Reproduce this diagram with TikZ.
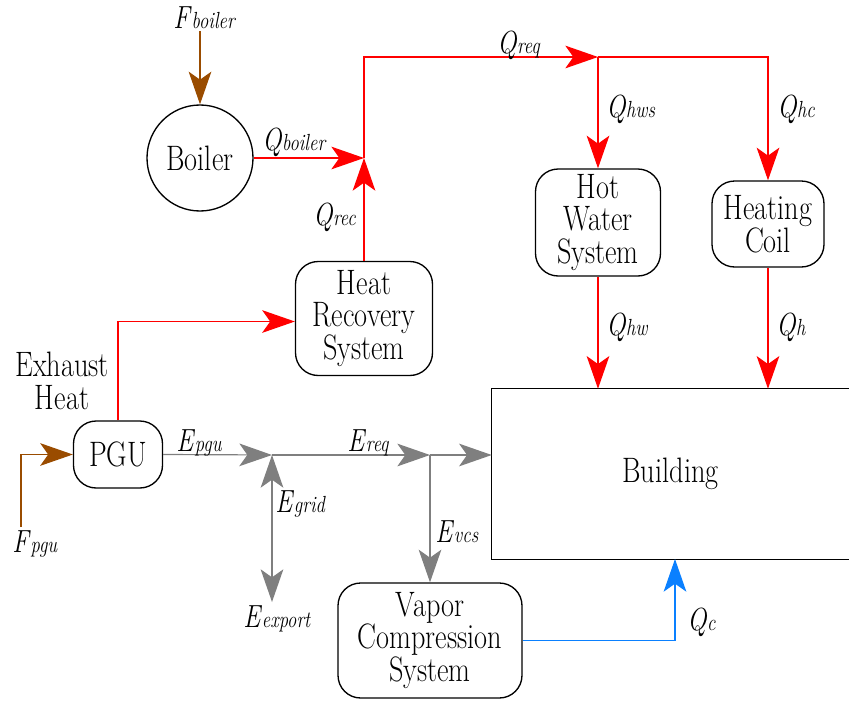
\documentclass[tikz,border=0pt]{standalone}
\usepackage{fontspec}
\setmainfont{Latin Modern Roman}[FakeStretch=0.8]
\usetikzlibrary{arrows.meta,calc}
\definecolor{flowred}{HTML}{FF0000}
\definecolor{flowbrown}{HTML}{9A4C00}
\definecolor{flowgray}{HTML}{7F7F7F}
\definecolor{flowblue}{HTML}{0A80FF}
\newcommand\lbl[2]{\textit{#1}{\fontsize{17.5}{17.5}\selectfont\textit{#2}}}
\tikzset{
  txt/.style={font=\fontsize{26.5}{24.4}\selectfont},
  box/.style={draw, line width=1pt, rounded corners=17pt, align=center, inner sep=0pt, txt},
  lab/.style={inner sep=0pt, anchor=base west, font=\fontsize{24}{24}\selectfont},
  bigtip/.tip={Stealth[length=24.5pt,width=17pt,inset=6pt]},
  redflow/.style={draw=flowred, line width=0.9pt, -bigtip},
  brownflow/.style={draw=flowbrown, line width=0.9pt, -bigtip},
  grayflow/.style={draw=flowgray, line width=0.9pt, -bigtip},
  blueflow/.style={draw=flowblue, line width=0.9pt, -bigtip},
}
\begin{document}
\begin{tikzpicture}[x=0.75pt,y=-0.75pt]
\useasboundingbox (0,0) rectangle (849,700);

% nodes
\node[draw, circle, line width=1pt, minimum size=79.5pt, inner sep=0pt, txt] (boiler) at (200,158) {Boiler};
\node[box, minimum width=102.75pt, minimum height=85.5pt] (hrs) at (364,318.5) {Heat\\Recovery\\System};
\node[box, minimum width=93.75pt, minimum height=80.25pt] (hws) at (598,222.5) {Hot\\Water\\System};
\node[box, minimum width=84pt, minimum height=64.5pt] (hc) at (768,224) {Heating\\Coil};
\node[box, minimum width=66.75pt, minimum height=50.25pt] (pgu) at (118,454.5) {PGU};
\node[box, minimum width=138pt, minimum height=86.25pt] (vcs) at (430,640.5) {Vapor\\Compression\\System};
\node[inner sep=0pt, minimum width=267.75pt, minimum height=127.5pt, txt] (bld) at (670.5,474) {Building};
\draw[line width=1pt] (bld.north east) -- (bld.north west) -- (bld.south west) -- (bld.south east);
\node[align=center, inner sep=0pt, txt] (exh) at (62,381) {Exhaust\\Heat};

% junctions
\coordinate (fbtop) at (200,31);
\coordinate (fptop) at (21,527);
\coordinate (jrec) at (364,158);
\coordinate (jreq) at (598,57);
\coordinate (jgrid) at (272,455);
\coordinate (jexp) at (272,602);
\coordinate (jvcs) at (430,455);
\coordinate (qc) at (675,559);

% brown fuel
\draw[brownflow] (fbtop) -- (boiler.north);
\draw[brownflow] (fptop) |- (pgu.west);

% red heat
\draw[redflow] (pgu.north) |- ($(hrs.west)+(0,3)$);
\draw[redflow] (hrs.north) -- (jrec);
\draw[redflow] (boiler.east) -- (jrec);
\draw[redflow] (jrec) |- (jreq);
\draw[redflow] (jreq) -- (hws.north);
\draw[redflow] (jreq) -| (hc.north);
\draw[redflow] (hws.south) -- (hws.south |- bld.north);
\draw[redflow] (hc.south) -- (hc.south |- bld.north);

% gray electricity
\draw[grayflow] (pgu.east) -- (jgrid);
\draw[grayflow, bigtip-bigtip] (jgrid) -- (jexp);
\draw[grayflow] (jgrid) -- (jvcs);
\draw[grayflow] (jvcs) -- (jvcs -| bld.west);
\draw[grayflow] (jvcs) -- (vcs.north);

% blue cooling
\draw[blueflow] (vcs.east) -| (qc);

% labels
\node[lab] (lfb) at (173,28) {\lbl{F}{boiler}};
\node[lab] (lqb) at (262,150) {\lbl{Q}{boiler}};
\node[lab] (lqreq) at (497,53) {\lbl{Q}{req}};
\node[lab] (lqhws) at (606,117) {\lbl{Q}{hws}};
\node[lab] (lqhc) at (777,117) {\lbl{Q}{hc}};
\node[lab] (lqrec) at (313,225) {\lbl{Q}{rec}};
\node[lab] (lqhw) at (606,335) {\lbl{Q}{hw}};
\node[lab] (lqh) at (776,335) {\lbl{Q}{h}};
\node[lab] (lep) at (176,451) {\lbl{E}{pgu}};
\node[lab] (ler) at (347,451) {\lbl{E}{req}};
\node[lab] (leg) at (275,512) {\lbl{E}{grid}};
\node[lab] (lev) at (435,542) {\lbl{E}{vcs}};
\node[lab] (lee) at (243,627) {\lbl{E}{export}};
\node[lab] (lfp) at (12,552) {\lbl{F}{pgu}};
\node[lab] (lqc) at (687,630) {\lbl{Q}{c}};
\end{tikzpicture}
\end{document}
